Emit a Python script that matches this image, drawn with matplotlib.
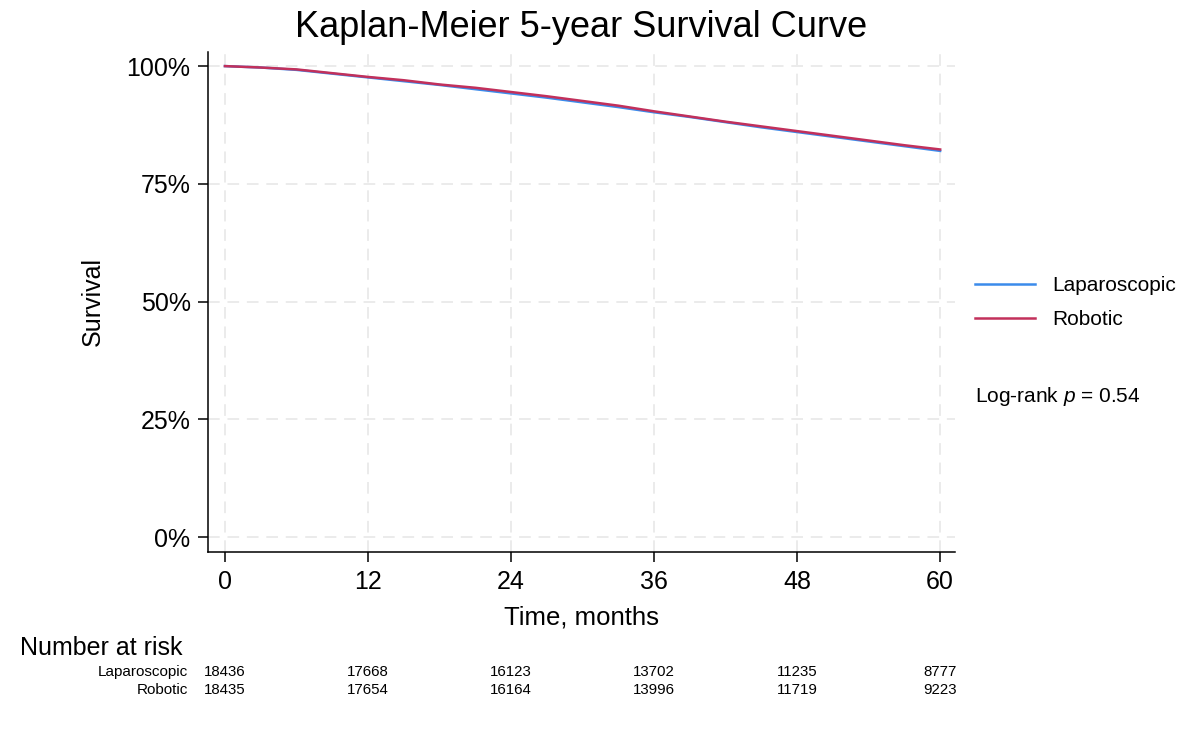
import numpy as np
import matplotlib
matplotlib.use("Agg")
import matplotlib.pyplot as plt
from matplotlib.transforms import blended_transform_factory

plt.rcParams['font.family'] = ['Liberation Sans', 'DejaVu Sans']
plt.rcParams['mathtext.fontset'] = 'custom'
plt.rcParams['mathtext.rm'] = 'Liberation Sans'
plt.rcParams['mathtext.it'] = 'Liberation Sans:italic'

# Survival estimates (every 3 months)
months = [0, 3, 6, 9, 12, 15, 18, 21, 24, 27, 30, 33, 36, 39, 42, 45, 48, 51, 54, 57, 60]
lap_surv = [100, 99.7, 99.2, 98.4, 97.6, 96.8, 96.0, 95.1, 94.2, 93.3, 92.3,
            91.3, 90.2, 89.2, 88.1, 87.0, 86.0, 85.0, 84.0, 83.0, 82.0]
rob_surv = [100, 99.7, 99.3, 98.5, 97.7, 97.0, 96.1, 95.4, 94.5, 93.6, 92.6,
            91.6, 90.4, 89.3, 88.2, 87.2, 86.2, 85.2, 84.2, 83.2, 82.3]

# Number at risk table
risk_times = [0, 12, 24, 36, 48, 60]
groups = ["Laparoscopic", "Robotic"]
lap_risk = [18436, 17668, 16123, 13702, 11235, 8777]
rob_risk = [18435, 17654, 16164, 13996, 11719, 9223]

blue = '#3B8BEB'
red = '#C2305B'

fig = plt.figure(figsize=(11.88, 7.32), dpi=100)
ax = fig.add_axes([0.175, 0.2463, 0.629, 0.6827])

ax.plot(months, lap_surv, color=blue, lw=1.8, label="Laparoscopic")
ax.plot(months, rob_surv, color=red, lw=1.8, label="Robotic")

ax.set_xlim(-1.43, 61.26)
ax.set_ylim(-3.1, 103.0)
ax.set_xticks(risk_times)
ax.set_yticks([0, 25, 50, 75, 100])
ax.set_yticklabels(['0%', '25%', '50%', '75%', '100%'])

ax.grid(True, color='#ebebeb', lw=1.4, ls=(0, (6, 4)))
ax.set_axisbelow(True)
for s in ['top', 'right']:
    ax.spines[s].set_visible(False)
for s in ['left', 'bottom']:
    ax.spines[s].set_linewidth(1.1)
ax.tick_params(axis='both', direction='out', length=7.5, width=1.1, labelsize=18)
ax.tick_params(axis='x', pad=6)
ax.tick_params(axis='y', pad=5)

ax.set_title("Kaplan-Meier 5-year Survival Curve", fontsize=26, pad=11)
ax.set_xlabel("Time, months", fontsize=18.5, labelpad=8)
ax.set_ylabel("Survival", fontsize=18, labelpad=16)

leg = fig.legend(loc='center left', bbox_to_anchor=(0.8207, 0.5867), frameon=False,
                 fontsize=15, handlelength=2.9, handletextpad=0.8, labelspacing=0.7,
                 borderpad=0, borderaxespad=0)

fig.text(0.8207, 0.4577, "Log-rank $p$ = 0.54", fontsize=15, va='center', ha='left')

# Number at risk
fig.text(0.017, 0.115, "Number at risk", fontsize=18, va='center', ha='left')
trans = blended_transform_factory(ax.transData, fig.transFigure)
row_y = [0.082, 0.057]
for name, counts, yy in zip(groups, [lap_risk, rob_risk], row_y):
    fig.text(0.158, yy, name, fontsize=11, va='center', ha='right')
    for t, n in zip(risk_times, counts):
        ax.text(t, yy, str(n), fontsize=10.8, va='center', ha='center',
                transform=trans, clip_on=False)

fig.savefig("out.png", dpi=100)
